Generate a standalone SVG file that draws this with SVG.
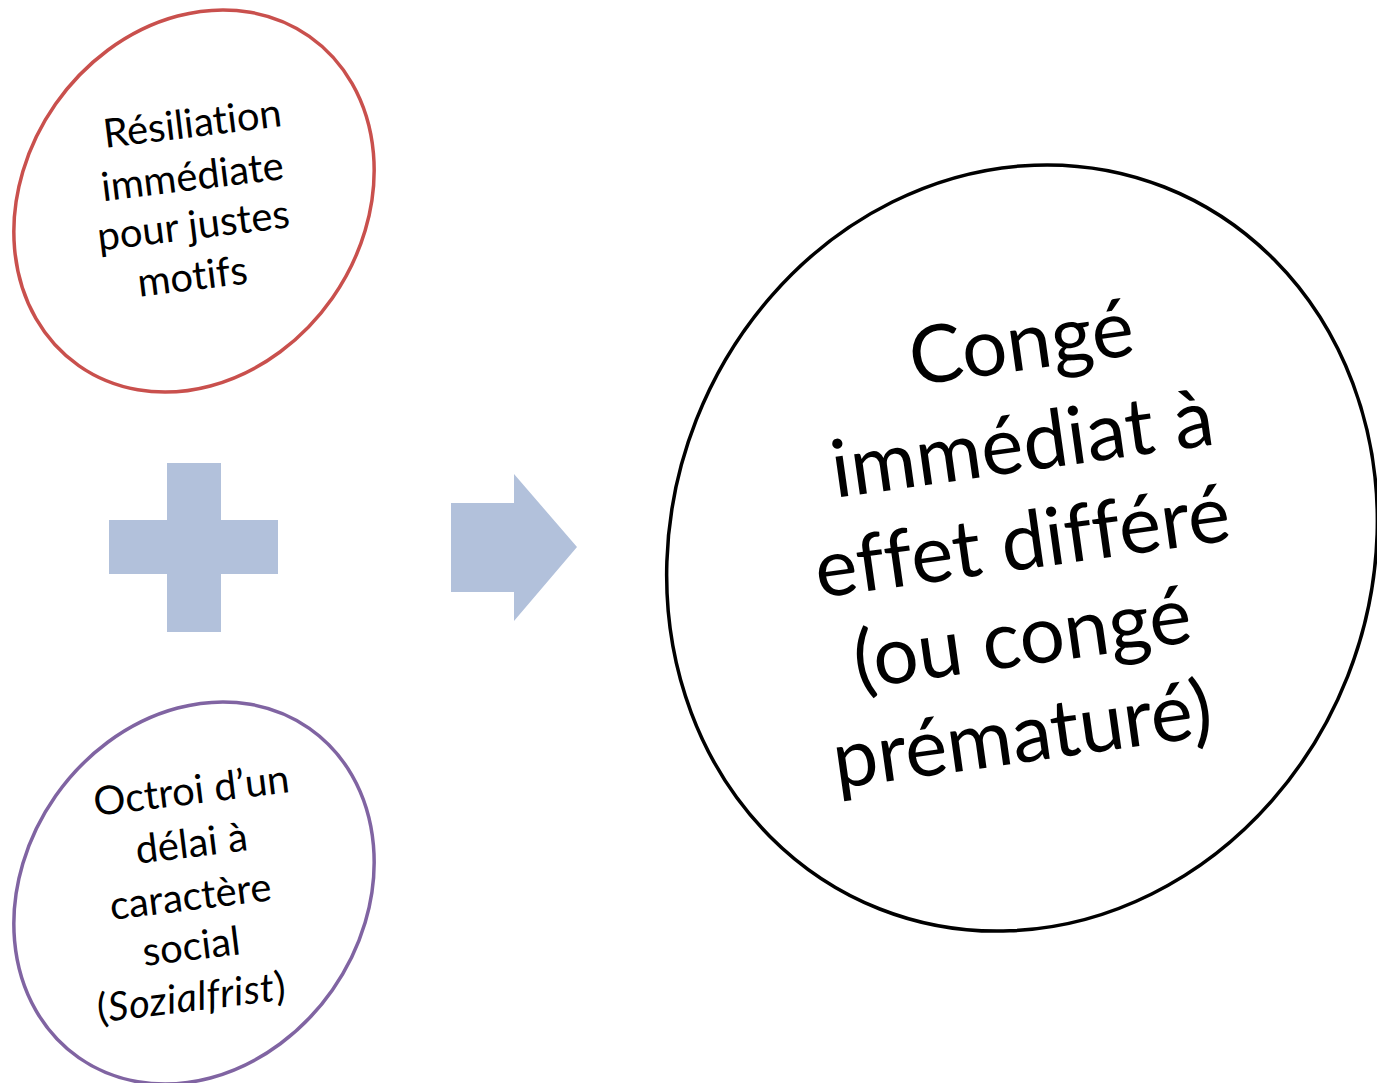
<svg xmlns="http://www.w3.org/2000/svg" width="1377" height="1083" viewBox="0 0 1377 1083">
<style>
.t{font-family:Lato,"Liberation Sans",sans-serif;fill:#000;text-anchor:middle;font-variant-ligatures:none;font-feature-settings:"liga" 0}
.s{font-size:40px}
.b{font-size:80px}
.ring{fill:#fff;stroke-width:3.5}
.shape{fill:#B2C1DB}
</style>
<rect width="1377" height="1083" fill="#fff"/>
<g id="node-resiliation">
<ellipse class="ring" cx="194" cy="201" rx="169" ry="201" transform="rotate(35 194 201)" stroke="#C9504D"/>
<text class="t s" x="194" y="137" transform="rotate(-7 194 137)">Résiliation</text>
<text class="t s" x="194" y="190" transform="rotate(-7 194 190)">immédiate</text>
<text class="t s" x="195" y="239" transform="rotate(-7 195 239)">pour justes</text>
<text class="t s" x="194" y="290" transform="rotate(-7 194 290)">motifs</text>
</g>
<g id="node-plus">
<polygon class="shape" points="167,463 221,463 221,520 278,520 278,574 221,574 221,632 167,632 167,574 109,574 109,520 167,520"/>
</g>
<g id="node-octroi">
<ellipse class="ring" cx="194" cy="893" rx="169" ry="201" transform="rotate(35 194 893)" stroke="#8064A2"/>
<text class="t s" x="193" y="804" transform="rotate(-7 193 804)">Octroi d’un</text>
<text class="t s" x="193" y="857" transform="rotate(-7 193 857)">délai à</text>
<text class="t s" x="192" y="910" transform="rotate(-7 192 910)">caractère</text>
<text class="t s" x="193" y="960" transform="rotate(-7 193 960)">social</text>
<text class="t s" x="193" y="1011" transform="rotate(-7 193 1011)" letter-spacing="0.5">(<tspan font-style="italic">Sozialfrist</tspan>)</text>
</g>
<g id="connectors">
<polygon class="shape" points="451,503 514,503 514,474 577,547 514,621 514,592 451,592"/>
</g>
<g id="node-conge">
<ellipse class="ring" cx="1022" cy="548" rx="350" ry="388" transform="rotate(21.5 1022 548)" stroke="#000"/>
<text class="t b" x="1025" y="370" transform="rotate(-8 1025 370)">Congé</text>
<text class="t b" x="1026" y="471" transform="rotate(-8 1026 471)">immédiat à</text>
<text class="t b" x="1026" y="569" transform="rotate(-8 1026 569)">effet différé</text>
<text class="t b" x="1026" y="665" transform="rotate(-8 1026 665)">(ou congé</text>
<text class="t b" x="1026" y="762" transform="rotate(-8 1026 762)">prématuré)</text>
</g>
</svg>
